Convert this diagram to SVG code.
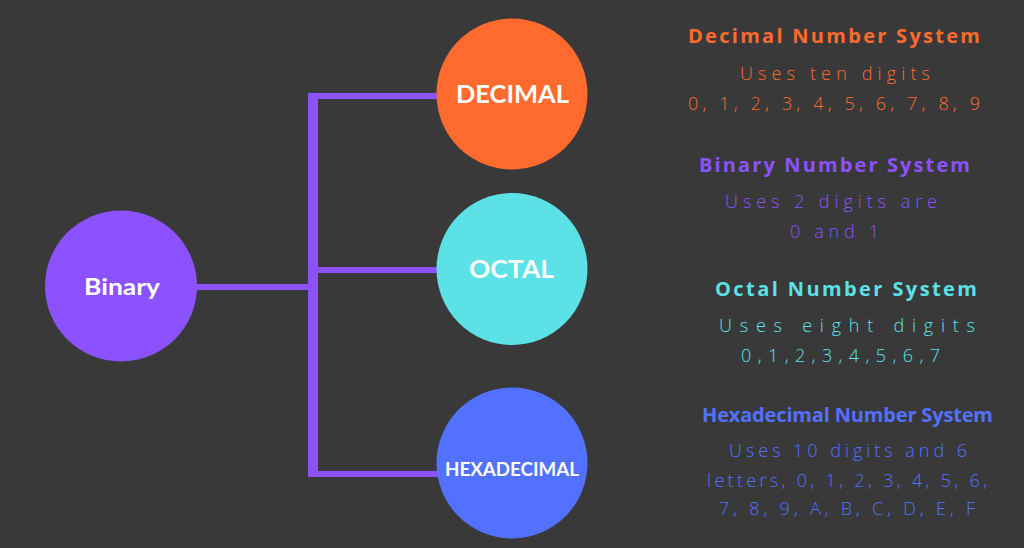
<svg xmlns="http://www.w3.org/2000/svg" width="1024" height="548" viewBox="0 0 1024 548">
<style>
.lbl{font-family:Lato,"Open Sans","Liberation Sans",sans-serif;font-weight:700;fill:#ffffff;text-anchor:middle}
.hd{font-family:"Open Sans","Liberation Sans",sans-serif;font-weight:700;text-anchor:middle;font-size:20px}
.bd{font-family:"Open Sans","Liberation Sans",sans-serif;font-weight:300;text-anchor:middle;font-size:18px}
.or{fill:#FF6B2E}.pu{fill:#8C52FF}.cy{fill:#5CE1E6}.bl{fill:#5271FF}
.wire{fill:#8C52FF}
</style>
<rect width="1024" height="548" fill="#393939"/>
<g id="connectors">
<rect class="wire" x="308" y="93" width="10" height="384"/>
<rect class="wire" x="308" y="93" width="130" height="6"/>
<rect class="wire" x="318" y="267" width="120" height="6"/>
<rect class="wire" x="196" y="284" width="122" height="6"/>
<rect class="wire" x="308" y="471" width="130" height="6"/>
</g>
<g id="binary">
<ellipse cx="121" cy="286" rx="76" ry="75.5" fill="#8C52FF"/>
<text class="lbl" x="122" y="295" font-size="23" textLength="76" lengthAdjust="spacingAndGlyphs">Binary</text>
</g>
<g id="decimal">
<ellipse cx="512" cy="94" rx="75.5" ry="75.5" fill="#FF6B2E"/>
<text class="lbl" x="512.5" y="103" font-size="24" textLength="113" lengthAdjust="spacingAndGlyphs">DECIMAL</text>
</g>
<g id="octal">
<ellipse cx="512" cy="269" rx="75.5" ry="76" fill="#5CE1E6"/>
<text class="lbl" x="511.5" y="278" font-size="24" textLength="85" lengthAdjust="spacingAndGlyphs">OCTAL</text>
</g>
<g id="hexadecimal">
<ellipse cx="512" cy="463" rx="75.5" ry="75.5" fill="#5271FF"/>
<text class="lbl" x="512" y="476" font-size="18" textLength="134" lengthAdjust="spacingAndGlyphs">HEXADECIMAL</text>
</g>
<g id="decimal-info">
<text class="hd or" x="834" y="43" textLength="292" lengthAdjust="spacing">Decimal Number System</text>
<text class="bd or" x="835" y="80" textLength="190" lengthAdjust="spacing">Uses ten digits</text>
<text class="bd or" x="834" y="110" textLength="292" lengthAdjust="spacing">0, 1, 2, 3, 4, 5, 6, 7, 8, 9</text>
</g>
<g id="binary-info">
<text class="hd pu" x="834.5" y="171.5" textLength="271" lengthAdjust="spacing">Binary Number System</text>
<text class="bd pu" x="831" y="208" textLength="212" lengthAdjust="spacing">Uses 2 digits are</text>
<text class="bd pu" x="834.5" y="237.5" textLength="89" lengthAdjust="spacing">0 and 1</text>
</g>
<g id="octal-info">
<text class="hd cy" x="846" y="296" textLength="262" lengthAdjust="spacing">Octal Number System</text>
<text class="bd cy" x="847" y="331.5" textLength="256" lengthAdjust="spacing">Uses eight digits</text>
<text class="bd cy" x="840.5" y="361.5" textLength="199" lengthAdjust="spacing">0,1,2,3,4,5,6,7</text>
</g>
<g id="hexadecimal-info">
<text class="hd bl" x="847.5" y="421.5" font-size="17" textLength="291" lengthAdjust="spacing">Hexadecimal Number System</text>
<text class="bd bl" x="848" y="456.5" textLength="238" lengthAdjust="spacing">Uses 10 digits and 6</text>
<text class="bd bl" x="847" y="486.5" textLength="280" lengthAdjust="spacing">letters, 0, 1, 2, 3, 4, 5, 6,</text>
<text class="bd bl" x="847" y="515" textLength="256" lengthAdjust="spacing">7, 8, 9, A, B, C, D, E, F</text>
</g>
</svg>
